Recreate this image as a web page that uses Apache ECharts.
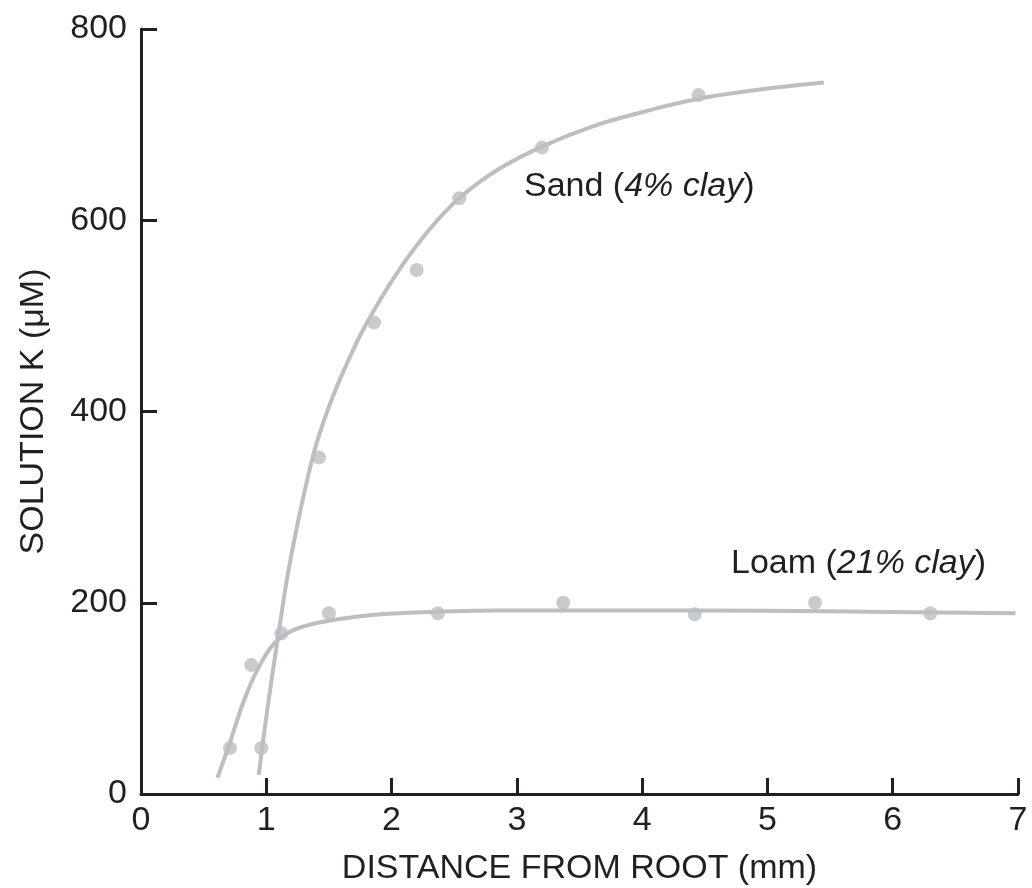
<!DOCTYPE html>
<html>
<head>
<meta charset="utf-8">
<title>Solution K vs distance from root</title>
<script src="https://cdn.jsdelivr.net/npm/echarts@6/dist/echarts.min.js"></script>
<style>
  html, body { margin: 0; padding: 0; background: #ffffff; }
  #chart { width: 1032px; height: 888px; }
</style>
</head>
<body>
<div id="chart"></div>
<script>
// Axis ticks
const xTicks = [0, 1, 2, 3, 4, 5, 6, 7];
const yTicks = [0, 200, 400, 600, 800];

// Sand (4% clay): measured points [distance mm, K µM]
const sandPoints = [
  [0.96, 48], [1.42, 352], [1.86, 493], [2.20, 548],
  [2.54, 623], [3.20, 676], [4.45, 731]
];
// Sand fitted curve
const sandCurve = [
  [0.94, 20], [1.01, 90], [1.10, 170], [1.20, 250], [1.37, 352],
  [1.50, 405], [1.65, 452], [1.80, 492], [2.05, 546], [2.30, 590],
  [2.54, 623], [2.85, 653], [3.20, 677], [3.60, 698], [4.00, 713],
  [4.45, 727], [4.90, 736], [5.45, 744]
];

// Loam (21% clay): measured points
const loamPoints = [
  [0.71, 48], [0.88, 135], [1.12, 168], [1.50, 189], [2.37, 189],
  [3.37, 200], [4.42, 188], [5.38, 200], [6.30, 189]
];
// Loam fitted curve
const loamCurve = [
  [0.61, 17], [0.70, 50], [0.82, 97], [0.93, 130], [1.06, 157],
  [1.21, 171], [1.41, 179], [1.75, 186], [2.24, 190], [2.86, 192],
  [3.22, 192], [4.44, 192], [5.48, 191], [6.98, 189]
];

const INK = '#231f20';
const GREY = '#bcbec0';
const FONT = '"Liberation Sans", Arial, Helvetica, sans-serif';

const chart = echarts.init(document.getElementById('chart'), null, { renderer: 'canvas' });

function curveSeries(data) {
  return {
    type: 'line', data: data, smooth: 0.4, showSymbol: false, silent: true,
    lineStyle: { color: GREY, width: 4 }, z: 2
  };
}
function pointSeries(data) {
  return {
    type: 'scatter', data: data, symbol: 'circle', symbolSize: 14, silent: true,
    itemStyle: { color: GREY }, z: 3
  };
}

chart.setOption({
  animation: false,
  backgroundColor: '#ffffff',
  grid: { left: 141, right: 14, top: 29, bottom: 94, containLabel: false, outerBoundsMode: 'none' },
  xAxis: {
    type: 'value', min: xTicks[0], max: xTicks[xTicks.length - 1], interval: 1,
    name: 'DISTANCE FROM ROOT (mm)', nameLocation: 'middle', nameGap: 58,
    nameTextStyle: { color: INK, fontSize: 34, fontFamily: FONT },
    axisLine: { lineStyle: { color: INK, width: 3 } },
    axisTick: { inside: true, length: 16, lineStyle: { color: INK, width: 3 } },
    axisLabel: { color: INK, fontSize: 34, fontFamily: FONT, margin: 10 },
    splitLine: { show: false }
  },
  yAxis: {
    type: 'value', min: yTicks[0], max: yTicks[yTicks.length - 1], interval: 200,
    name: 'SOLUTION K (\u03bcM)', nameLocation: 'middle', nameGap: 90, nameRotate: 90,
    nameTextStyle: { color: INK, fontSize: 34, fontFamily: FONT },
    axisLine: { show: true, lineStyle: { color: INK, width: 3 } },
    axisTick: { show: true, inside: true, length: 16, lineStyle: { color: INK, width: 3 } },
    axisLabel: { color: INK, fontSize: 34, fontFamily: FONT, margin: 14 },
    splitLine: { show: false }
  },
  graphic: [
    {
      type: 'text', left: 524, top: 170,
      style: {
        text: '{n|Sand (}{i|4% clay}{n|)}',
        rich: {
          n: { fontSize: 34, fontFamily: FONT, fill: INK },
          i: { fontSize: 34, fontFamily: FONT, fontStyle: 'italic', fill: INK }
        }
      }
    },
    {
      type: 'text', left: 731, top: 547,
      style: {
        text: '{n|Loam (}{i|21% clay}{n|)}',
        rich: {
          n: { fontSize: 34, fontFamily: FONT, fill: INK },
          i: { fontSize: 34, fontFamily: FONT, fontStyle: 'italic', fill: INK }
        }
      }
    }
  ],
  series: [
    curveSeries(sandCurve),
    pointSeries(sandPoints),
    curveSeries(loamCurve),
    pointSeries(loamPoints)
  ]
});
</script>
</body>
</html>
